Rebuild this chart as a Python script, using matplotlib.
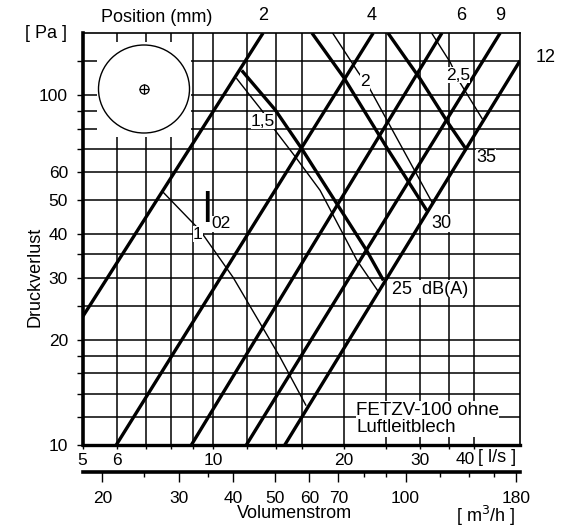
import matplotlib
matplotlib.use('Agg')
import matplotlib.pyplot as plt
from matplotlib.patches import Rectangle, Ellipse
from matplotlib.ticker import FixedLocator, NullLocator, FixedFormatter, NullFormatter

plt.rcParams['font.family'] = ['Liberation Sans', 'DejaVu Sans']

# ---- axis ranges and grid ----
q_lim = (5, 51)          # volume flow [l/s]
p_lim = (10, 150)        # pressure drop [Pa]
q_grid = [5, 6, 7, 8, 9, 10, 12, 14, 16, 20, 25, 30, 35, 40]
q_ticklabels = ['5', '6', '', '', '', '10', '', '', '', '20', '', '30', '', '']
p_grid = [10, 12, 14, 16, 18, 20, 25, 30, 35, 40, 50, 60, 70, 80, 90, 100, 125]
p_ticklabels = ['10', '', '', '', '', '20', '', '30', '', '40', '50', '60', '', '', '', '100', '']
m3h_major = [20, 30, 40, 50, 60, 70, 100, 180]
m3h_minor = [25, 35, 80, 90, 120, 140, 160]
m3h_factor = 3.6

# ---- damper positions [mm]: system curves (start / end points) ----
positions = ['2', '4', '6', '9', '12']
pos_q = [[5, 13.04], [5.98, 23.4], [8.91, 33.7], [11.93, 45.9], [14.63, 51]]
pos_p = [[23.2, 150], [10, 150], [10, 150], [10, 150], [10, 125]]

# ---- sound power level curves [dB(A)] ----
noise_levels = ['25', '30', '35']
noise_q = [[11.64, 13.9, 16.0, 22.6, 24.7],
           [16.9, 19.98, 25.4, 31.1],
           [25.3, 30.0, 34.9, 38.1]]
noise_p = [[117.3, 90.6, 70.2, 35.9, 29.5],
           [150, 112.3, 69.2, 46.7],
           [150, 111.1, 82.7, 70.6]]

# ---- throw l02 [m] ----
throw_labels = ['1', '1,5', '2', '2,5']
throw_q = [[7.68, 9.33, 11.12, 14.27, 16.36],
           [11.34, 12.95, 13.9, 15.46, 17.65, 21.45, 24.0],
           [18.86, 21.6, 22.9, 30.0, 32.0],
           [31.9, 35.2, 37.1, 41.7]]
throw_p = [[52.6, 41.0, 30.1, 17.81, 13.0],
           [111.1, 90.2, 79.1, 66.6, 53.3, 33.7, 27.5],
           [150, 115.9, 104.7, 56.9, 49.2],
           [150, 123.8, 108.2, 85.5]]

W, H = 568, 527
fig = plt.figure(figsize=(W / 100, H / 100), dpi=100)


def fx(x):
    return x / W


def fy(y):
    return 1 - y / H


L, R, T, B = 82.5, 520, 33, 445
ax = fig.add_axes([fx(L), fy(B), (R - L) / W, (B - T) / H])
ax.set_xscale('log')
ax.set_yscale('log')
ax.set_xlim(*q_lim)
ax.set_ylim(*p_lim)

ax.xaxis.set_major_locator(FixedLocator(q_grid))
ax.xaxis.set_major_formatter(FixedFormatter(q_ticklabels))
ax.xaxis.set_minor_locator(NullLocator())
ax.yaxis.set_major_locator(FixedLocator(p_grid))
ax.yaxis.set_major_formatter(FixedFormatter(p_ticklabels))
ax.yaxis.set_minor_locator(NullLocator())
ax.tick_params(axis='x', direction='out', length=3, width=1, pad=2.5,
               labelsize=12.5, colors='black')
ax.tick_params(axis='y', direction='out', length=4.5, width=1, pad=6,
               labelsize=12.5, colors='black')
ax.set_axisbelow(True)
ax.grid(True, which='major', color='black', lw=1.1)
ax.spines['left'].set_linewidth(2.6)
ax.spines['bottom'].set_linewidth(2.4)
ax.spines['top'].set_linewidth(1.2)
ax.spines['right'].set_linewidth(1.2)

# duct cross-section sketch
ax.add_patch(Rectangle(((97 - L) / (R - L), (B - 137) / (B - T)),
                       (191 - 97) / (R - L), (137 - 42) / (B - T),
                       transform=ax.transAxes, facecolor='white',
                       edgecolor='none', zorder=1.5))
cx, cy = (144 - L) / (R - L), (B - 89) / (B - T)
ax.add_patch(Ellipse((cx, cy), 91 / (R - L), 88 / (B - T),
                     transform=ax.transAxes, fill=False, lw=1.0,
                     edgecolor='black', zorder=2))
ax.plot([cx], [cy], marker='o', ms=6.5, mfc='white', mec='black', mew=0.9,
        transform=ax.transAxes, zorder=3)
ax.plot([cx], [cy], marker='+', ms=6.5, mec='black', mew=0.9,
        transform=ax.transAxes, zorder=3)

# curves
for q, p in zip(pos_q, pos_p):
    ax.plot(q, p, color='black', lw=2.4, solid_capstyle='butt', zorder=3)
for q, p in zip(noise_q, noise_p):
    ax.plot(q, p, color='black', lw=2.4, solid_capstyle='butt',
            solid_joinstyle='round', zorder=3)
for q, p in zip(throw_q, throw_p):
    ax.plot(q, p, color='black', lw=1.0, zorder=2.5)

# secondary flow scale [m3/h]
ax2 = fig.add_axes([fx(L), fy(472), (R - L) / W, 1 / H])
ax2.set_xscale('log')
ax2.set_xlim(q_lim[0] * m3h_factor, q_lim[1] * m3h_factor)
ax2.patch.set_visible(False)
for s in ['top', 'left', 'right']:
    ax2.spines[s].set_visible(False)
ax2.spines['bottom'].set_linewidth(2.6)
ax2.set_yticks([])
ax2.xaxis.set_major_locator(FixedLocator(m3h_major))
ax2.xaxis.set_major_formatter(FixedFormatter([str(v) for v in m3h_major]))
ax2.xaxis.set_minor_locator(FixedLocator(m3h_minor))
ax2.xaxis.set_minor_formatter(NullFormatter())
ax2.tick_params(axis='x', which='major', direction='out', length=7, width=1,
                pad=7, labelsize=12.5)
ax2.tick_params(axis='x', which='minor', direction='out', length=3.6, width=1)

# annotations
fs = 13
wb = dict(facecolor='white', edgecolor='none', pad=0.3)
fig.text(fx(157), fy(18), 'Position (mm)', ha='center', va='center', size=fs)
for lab, (x, y) in zip(positions, [(263, 15), (372, 15), (461, 15), (500, 15), (546, 58)]):
    fig.text(fx(x), fy(y), lab, ha='center', va='center', size=fs)
fig.text(fx(46), fy(34), '[ Pa ]', ha='center', va='center', size=fs)
fig.text(fx(35), fy(277), 'Druckverlust', ha='center', va='center',
         size=fs, rotation=90)

for lab, (x, y) in zip(throw_labels, [(198, 234), (263, 121), (365, 82), (458, 75)]):
    fig.text(fx(x), fy(y), lab, ha='center', va='center', size=12.5, bbox=wb)
fig.text(fx(207), fy(222), 'l', ha='center', va='baseline', size=31)
fig.text(fx(211), fy(224), '02', ha='left', va='center', size=12.5, bbox=wb)

fig.text(fx(392), fy(289), '25  dB(A)', ha='left', va='center', size=fs, bbox=wb)
fig.text(fx(441), fy(223), noise_levels[1], ha='center', va='center', size=fs, bbox=wb)
fig.text(fx(486), fy(158), noise_levels[2], ha='center', va='center', size=fs, bbox=wb)

fig.text(fx(356), fy(419), 'FETZV-100 ohne\nLuftleitblech', ha='left',
         va='center', size=13.5, linespacing=1.07, bbox=wb)

fig.text(fx(475), fy(460), '40', ha='right', va='center', size=12.5)
fig.text(fx(478), fy(458), '[ l/s ]', ha='left', va='center', size=fs)
fig.text(fx(486), fy(516), '[ m$^3$/h ]', ha='center', va='center', size=fs)
fig.text(fx(294), fy(514), 'Volumenstrom', ha='center', va='center', size=fs)

fig.savefig('out.png', dpi=100)
